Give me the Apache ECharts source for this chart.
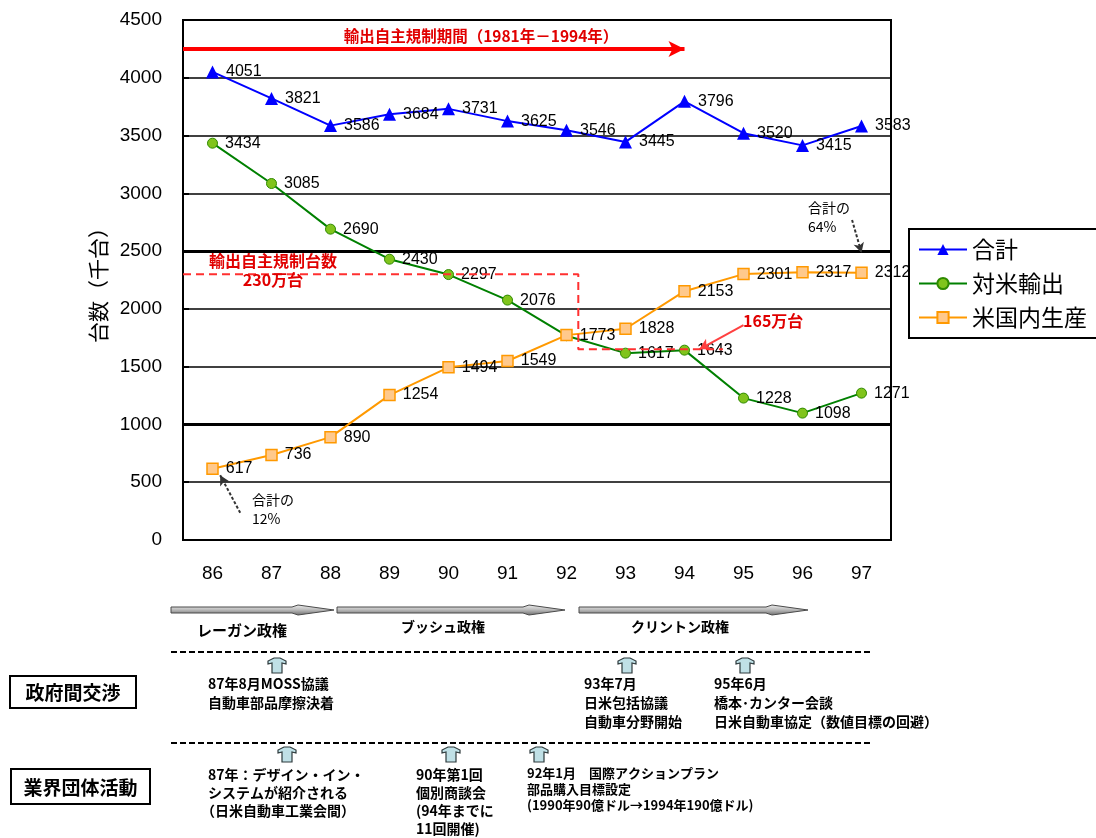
<!DOCTYPE html>
<html>
<head>
<meta charset="utf-8">
<script src="https://cdn.jsdelivr.net/npm/echarts@6/dist/echarts.min.js"></script>
<style>
  html, body { margin: 0; padding: 0; background: #fff; }
  #chart { width: 1096px; height: 838px; }
</style>
</head>
<body>
<div id="chart"></div>
<script>
// Fiscal years (19xx) on the category axis
const years = ['86', '87', '88', '89', '90', '91', '92', '93', '94', '95', '96', '97'];
// Japanese car sales in the US, thousand units
const totalUnits      = [4051, 3821, 3586, 3684, 3731, 3625, 3546, 3445, 3796, 3520, 3415, 3583];
const exportUnits     = [3434, 3085, 2690, 2430, 2297, 2076, 1768, 1617, 1643, 1228, 1098, 1271];
const localProduction = [617, 736, 890, 1254, 1494, 1549, 1773, 1828, 2153, 2301, 2317, 2312];
// value axis ticks
const yMin = 0, yMax = 4500, yStep = 500;
// voluntary export restraint ceilings (thousand units) and period end (index of '94)
const quotaEarly = 2300;
const quotaLate = 1650;
const restraintEnd = 8;

const JP = '"Noto Sans CJK JP", sans-serif';
const NUM = '"Liberation Sans", Arial, sans-serif';

const chart = echarts.init(document.getElementById('chart'), null, { renderer: 'canvas' });

function pointLabel() {
  return { show: true, position: 'right', distance: 7, fontSize: 16, color: '#000', fontFamily: NUM };
}

// export series: the '92 point sits under the local production marker, so its label is hidden
const exportData = exportUnits.map((v, i) => i === 6 ? { value: v, label: { show: false } } : v);

function arrowSeries(from, to, color, width, type, size) {
  return {
    type: 'line', xAxisIndex: 1, yAxisIndex: 0, data: [], silent: true, z: 6,
    markLine: {
      silent: true, animation: false,
      symbol: ['none', 'arrow'], symbolSize: size,
      label: { show: false },
      lineStyle: { color: color, width: width, type: type },
      emphasis: { disabled: true },
      data: [[{ coord: from }, { coord: to }]]
    }
  };
}

// grey administration arrow along the timeline
function timelineArrow(x0, x1, y) {
  const head = 42;
  return {
    type: 'polygon',
    shape: { points: [
      [x0, y - 3], [x1 - head, y - 3], [x1 - head + 6, y - 5], [x1, y],
      [x1 - head + 6, y + 5], [x1 - head, y + 3], [x0, y + 3]
    ] },
    style: {
      fill: new echarts.graphic.LinearGradient(0, 0, 0, 1, [
        { offset: 0, color: '#f0f0f0' }, { offset: 0.5, color: '#b8b8b8' }, { offset: 1, color: '#6a6a6a' }
      ]),
      stroke: '#4a4a4a', lineWidth: 1
    }
  };
}

// small light-blue block arrow pointing up at an event
function eventArrow(cx, y) {
  return {
    type: 'polygon',
    shape: { points: [
      [cx - 3, y], [cx + 3, y], [cx + 9, y + 3], [cx + 9, y + 6], [cx + 5, y + 5],
      [cx + 5, y + 15], [cx - 5, y + 15], [cx - 5, y + 5], [cx - 9, y + 6], [cx - 9, y + 3]
    ] },
    style: { fill: '#bfe0e6', stroke: '#2e3a3c', lineWidth: 1.2 }
  };
}

function text(x, y, str, size, opts) {
  opts = opts || {};
  return {
    type: 'text', x: x, y: y, z: 10,
    style: {
      text: str, fill: opts.color || '#000', fontSize: size,
      fontFamily: opts.family || JP, fontWeight: opts.weight || 'bold',
      align: opts.align || 'left', verticalAlign: opts.valign || 'middle',
      lineHeight: opts.lineHeight || size + 4
    }
  };
}

function dashedRule(y) {
  return {
    type: 'line', shape: { x1: 171, y1: y, x2: 872, y2: y },
    style: { stroke: '#000', lineWidth: 2, lineDash: [6, 3] }
  };
}

function framedTitle(x, y, w, h, str) {
  return [
    { type: 'rect', shape: { x: x, y: y, width: w, height: h }, style: { fill: '#fff', stroke: '#000', lineWidth: 2 } },
    text(x + w / 2, y + h / 2 + 1, str, 19, { align: 'center' })
  ];
}

const graphics = [
  // chart annotations
  text(481, 36, '輸出自主規制期間（1981年－1994年）', 15.5, { color: '#e00000', align: 'center' }),
  text(273, 261, '輸出自主規制台数', 16, { color: '#e00000', align: 'center' }),
  text(273, 280, '230万台', 16, { color: '#e00000', align: 'center' }),
  text(743, 321, '165万台', 16, { color: '#e00000' }),
  text(808, 208, '合計の', 14, { weight: 'normal' }),
  text(808, 227, '64%', 14, { weight: 'normal' }),
  text(252, 500, '合計の', 14, { weight: 'normal' }),
  text(252, 519, '12%', 14, { weight: 'normal' }),

  // administrations
  timelineArrow(171, 334, 610),
  timelineArrow(337, 565, 610),
  timelineArrow(579, 808, 610),
  text(242, 630, 'レーガン政権', 15, { align: 'center' }),
  text(443, 627, 'ブッシュ政権', 14, { align: 'center' }),
  text(680, 627, 'クリントン政権', 14, { align: 'center' }),

  // government negotiations
  dashedRule(652),
  ...framedTitle(10, 676, 126, 32, '政府間交渉'),
  eventArrow(277, 658), eventArrow(627, 658), eventArrow(745, 658),
  text(208, 684, '87年8月MOSS協議', 14),
  text(208, 703, '自動車部品摩擦決着', 14),
  text(584, 684, '93年7月', 14),
  text(584, 703, '日米包括協議', 14),
  text(584, 722, '自動車分野開始', 14),
  text(714, 684, '95年6月', 14),
  text(714, 703, '橋本･カンター会談', 14),
  text(714, 722, '日米自動車協定（数値目標の回避）', 14),

  // industry associations
  dashedRule(743),
  ...framedTitle(11, 769, 139, 35, '業界団体活動'),
  eventArrow(287, 747), eventArrow(451, 747), eventArrow(539, 747),
  text(208, 775, '87年：デザイン・イン・', 14),
  text(208, 793, 'システムが紹介される', 14),
  text(201, 811, '（日米自動車工業会間）', 14),
  text(416, 775, '90年第1回', 14),
  text(416, 793, '個別商談会', 14),
  text(416, 811, '(94年までに', 14),
  text(416, 829, '11回開催)', 14),
  text(527, 773, '92年1月　国際アクションプラン', 13),
  text(527, 789, '部品購入目標設定', 13),
  text(527, 805, '(1990年90億ドル→1994年190億ドル)', 13)
];

const option = {
  animation: false,
  backgroundColor: '#fff',
  grid: { left: 183, top: 20, width: 708, height: 520, show: true, borderColor: '#000', borderWidth: 2, backgroundColor: 'transparent' },
  legend: {
    data: ['合計', '対米輸出', '米国内生産'],
    orient: 'vertical', left: 909, top: 229,
    padding: [9, 12, 9, 9], itemGap: 11, itemWidth: 48, itemHeight: 14,
    backgroundColor: '#fff', borderColor: '#000', borderWidth: 2, borderRadius: 0,
    textStyle: { fontSize: 23, fontFamily: JP, color: '#000' },
    selectedMode: false, z: 20
  },
  xAxis: [
    {
      type: 'category', data: years, boundaryGap: true,
      axisLine: { onZero: false, lineStyle: { color: '#000', width: 2 } },
      axisTick: { inside: true, length: 7, lineStyle: { color: '#000', width: 2 } },
      axisLabel: { fontSize: 19, color: '#000', margin: 24, fontFamily: NUM, interval: 0 },
      splitLine: { show: false }
    },
    { type: 'value', min: -0.5, max: 11.5, show: false }
  ],
  yAxis: {
    type: 'value', min: yMin, max: yMax, interval: yStep,
    name: '台数（千台）', nameLocation: 'middle', nameGap: 74,
    nameTextStyle: { fontSize: 21, fontFamily: JP, color: '#000' },
    axisLine: { show: true, onZero: false, lineStyle: { color: '#000', width: 2 } },
    axisTick: { show: true, inside: true, length: 6, lineStyle: { color: '#000', width: 2 } },
    axisLabel: { fontSize: 19, color: '#000', margin: 21, fontFamily: NUM, formatter: v => String(v) },
    splitLine: { show: true, lineStyle: { color: '#000', width: 1.5 } }
  },
  series: [
    {
      name: '合計', type: 'line', data: totalUnits, z: 3,
      symbol: 'triangle', symbolSize: 13,
      lineStyle: { color: '#0000ff', width: 2 },
      itemStyle: { color: '#0000ff' },
      label: pointLabel(),
      markLine: {
        silent: true, symbol: 'none', label: { show: false }, z: 1,
        lineStyle: { color: '#000', width: 3, type: 'solid' },
        data: [{ yAxis: 1000 }, { yAxis: 2500 }]
      }
    },
    {
      name: '対米輸出', type: 'line', data: exportData, z: 3,
      symbol: 'circle', symbolSize: 10,
      lineStyle: { color: '#008000', width: 2 },
      itemStyle: { color: '#80c41c', borderColor: '#2f8a00', borderWidth: 1 },
      label: pointLabel()
    },
    {
      name: '米国内生産', type: 'line', data: localProduction, z: 4,
      symbol: 'rect', symbolSize: 11,
      lineStyle: { color: '#ff9900', width: 2 },
      itemStyle: { color: '#ffc98c', borderColor: '#ff9900', borderWidth: 1.5 },
      label: pointLabel()
    },
    {
      // restraint ceilings: 230万台 until early '92, then 165万台
      type: 'line', xAxisIndex: 1, yAxisIndex: 0, silent: true, z: 5,
      symbol: 'none',
      lineStyle: { color: '#ff3030', width: 2, type: [8, 5] },
      data: [[-0.5, quotaEarly], [6.2, quotaEarly], [6.2, quotaLate], [8.65, quotaLate]]
    },
    // restraint period arrow
    arrowSeries([-0.5, 4250], [restraintEnd, 4250], '#ff0000', 4, 'solid', [12, 16]),
    // pointer from the 165万台 note
    arrowSeries([9.0, 1860], [8.25, quotaLate], '#ff4040', 2, 'solid', [9, 11]),
    // share notes
    arrowSeries([10.84, 2770], [11.0, 2485], '#333', 2, [3, 2], [8, 10]),
    arrowSeries([0.47, 235], [0.13, 560], '#333', 2, [3, 2], [8, 10])
  ],
  graphic: graphics
};

chart.setOption(option);
</script>
</body>
</html>
